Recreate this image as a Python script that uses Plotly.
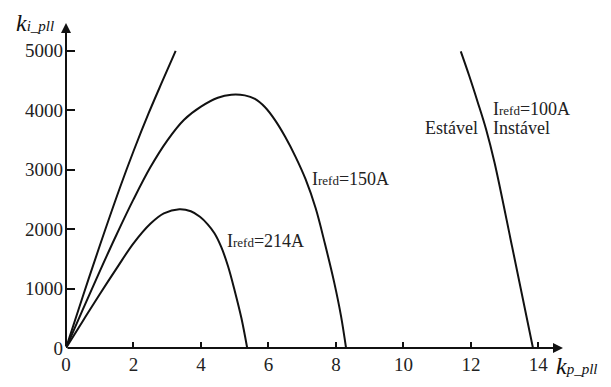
import plotly.graph_objects as go

# Curve data (k_p_pll, k_i_pll)
c214_x = [0, 0.5, 1.0, 1.5, 2.0, 2.5, 2.9, 3.36, 3.7, 3.97, 4.2, 4.4, 4.6, 4.8, 5.0, 5.2, 5.37]
c214_y = [0, 455, 905, 1340, 1760, 2090, 2265, 2334, 2300, 2207, 2080, 1930, 1700, 1380, 965, 500, 0]

c150_x = [0, 0.5, 1.0, 1.5, 2.0, 2.5, 3.0, 3.5, 4.0, 4.5, 4.9, 5.3, 5.6, 5.9, 6.2, 6.5, 6.8, 7.1, 7.4, 7.68, 7.95, 8.15, 8.3]
c150_y = [0, 650, 1290, 1910, 2500, 3040, 3490, 3840, 4060, 4210, 4262, 4250, 4190, 4050, 3830, 3550, 3220, 2840, 2350, 1740, 1100, 540, 0]

c_top_x = [0, 0.5, 1, 1.6, 2.0, 2.45, 2.85, 3.25]
c_top_y = [0, 870, 1720, 2700, 3310, 3950, 4480, 5000]

c100_x = [11.7, 11.95, 12.2, 12.45, 12.7, 13.22, 13.84]
c100_y = [4990, 4580, 4140, 3680, 3120, 1710, 0]

x_ticks = [0, 2, 4, 6, 8, 10, 12, 14]
y_ticks = [0, 1000, 2000, 3000, 4000, 5000]

X_MAX = 14.73
Y_MAX = 5468

FONT = "Liberation Serif"
line = dict(color="#111111", width=2)

fig = go.Figure()
for xs, ys in [(c_top_x, c_top_y), (c150_x, c150_y), (c214_x, c214_y), (c100_x, c100_y)]:
    fig.add_trace(go.Scatter(x=xs, y=ys, mode="lines", line=dict(line, shape="spline", smoothing=1.0),
                             showlegend=False, hoverinfo="skip", cliponaxis=False))

small = "<span style='font-size:13px'>refd</span>"
ann = []
def txt(x, y, s, xanchor="left", size=18):
    ann.append(dict(x=x, y=y, xref="x", yref="y", text=s, showarrow=False, xanchor=xanchor,
                    yanchor="middle", font=dict(family=FONT, size=size, color="#222222")))

txt(7.23, 2850, "I" + small + "=150A")
txt(4.71, 1800, "I" + small + "=214A")
txt(12.59, 4020, "I" + small + "=100A")
txt(12.26, 3700, "Estável", xanchor="right")
txt(12.61, 3700, "Instável")

# axis titles (paper coords, outside plot area)
ann.append(dict(x=-0.105, y=1.0, xref="paper", yref="paper", xanchor="left", yanchor="middle", showarrow=False,
                text="<i>k</i><i><span style='font-size:15px'>i_pll</span></i>",
                font=dict(family=FONT, size=24, color="#111111")))
ann.append(dict(x=0.982, y=-0.055, xref="paper", yref="paper", xanchor="left", yanchor="middle", showarrow=False,
                text="<i>k</i><i><span style='font-size:15px'>p_pll</span></i>",
                font=dict(family=FONT, size=24, color="#111111")))

# axis arrows
ann.append(dict(x=X_MAX, y=0, ax=0, ay=0, xref="x", yref="y", axref="x", ayref="y", showarrow=True,
                arrowhead=2, arrowsize=1, arrowwidth=2, arrowcolor="#111111", text=""))
ann.append(dict(x=0, y=Y_MAX, ax=0, ay=0, xref="x", yref="y", axref="x", ayref="y", showarrow=True,
                arrowhead=2, arrowsize=1, arrowwidth=2, arrowcolor="#111111", text=""))

fig.update_layout(
    width=611, height=387,
    margin=dict(l=66, r=48, t=23, b=34),
    plot_bgcolor="white", paper_bgcolor="white",
    annotations=ann,
    xaxis=dict(range=[0, X_MAX], tickvals=x_ticks, ticks="inside", ticklen=6, tickwidth=2,
               tickcolor="#111111", showgrid=False, zeroline=False, showline=False,
               ticklabelstandoff=3,
               tickfont=dict(family=FONT, size=19, color="#222222")),
    yaxis=dict(range=[0, Y_MAX], tickvals=y_ticks, ticks="inside", ticklen=9, tickwidth=2,
               tickcolor="#111111", showgrid=False, zeroline=False, showline=False,
               ticklabelstandoff=2,
               tickfont=dict(family=FONT, size=19, color="#222222")),
)

fig.write_html("out.html", config={"displayModeBar": False},
               post_script="document.body.style.margin='0';document.body.style.overflow='hidden';")
